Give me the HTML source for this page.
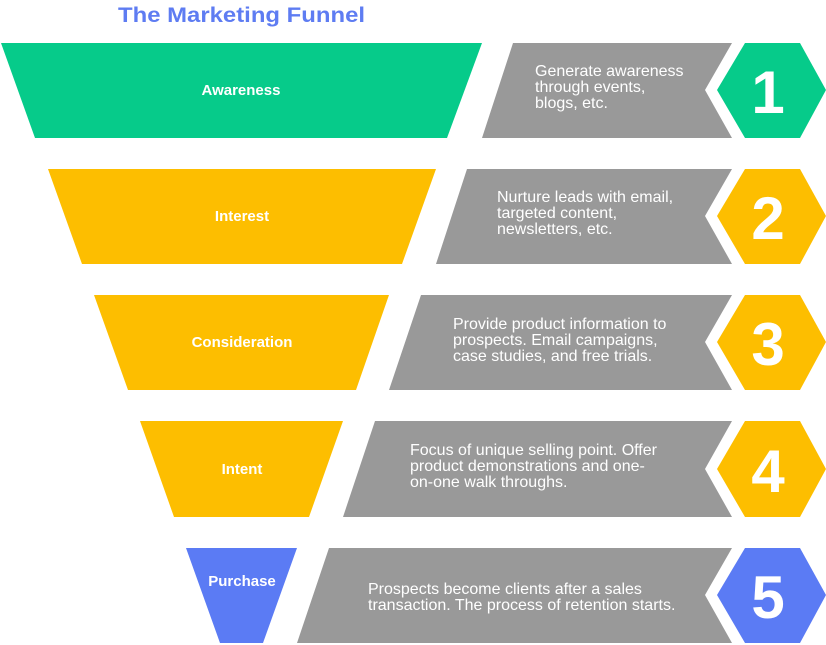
<!DOCTYPE html>
<html><head><meta charset="utf-8"><style>
html,body{margin:0;padding:0;background:#fff;}
svg{display:block;font-family:"Liberation Sans",sans-serif;}
</style></head><body>
<svg width="826" height="645" viewBox="0 0 826 645" xmlns="http://www.w3.org/2000/svg">
<text x="118" y="22" font-size="21" font-weight="bold" fill="#5E7CF2" textLength="247" lengthAdjust="spacingAndGlyphs">The Marketing Funnel</text>
<g font-weight="bold" fill="#fff" font-size="15" text-anchor="middle">
<polygon points="1,43 482,43 447,138 35,138" fill="#06CB8A"/>
<text x="241" y="95">Awareness</text>
<polygon points="48,169 436,169 402,264 82,264" fill="#FDBE00"/>
<text x="242" y="221">Interest</text>
<polygon points="94,295 389,295 356,390 128,390" fill="#FDBE00"/>
<text x="242" y="347">Consideration</text>
<polygon points="140,421 343,421 309,517 174,517" fill="#FDBE00"/>
<text x="242" y="474">Intent</text>
<polygon points="186,548 297,548 263,643 220,643" fill="#5B7BF4"/>
<text x="242" y="586">Purchase</text>
</g>
<g fill="#999">
<polygon points="513,43 732,43 705,90 732,138 482,138"/>
<polygon points="467,169 732,169 705,216 732,264 436,264"/>
<polygon points="421,295 732,295 705,342 732,390 389,390"/>
<polygon points="375,421 732,421 705,469 732,517 343,517"/>
<polygon points="329,548 732,548 705,595 732,643 297,643"/>
</g>
<polygon points="717,90 745,43 800,43 826,90 800,138 745,138" fill="#06CB8A"/>
<polygon points="717,216 745,169 800,169 826,216 800,264 745,264" fill="#FDBE00"/>
<polygon points="717,342 745,295 800,295 826,342 800,390 745,390" fill="#FDBE00"/>
<polygon points="717,469 745,421 800,421 826,469 800,517 745,517" fill="#FDBE00"/>
<polygon points="717,595 745,548 800,548 826,595 800,643 745,643" fill="#5B7BF4"/>
<g fill="#fff" font-weight="bold" font-size="60" text-anchor="middle">
<text x="768" y="113">1</text>
<text x="768" y="239">2</text>
<text x="768" y="365">3</text>
<text x="768" y="492">4</text>
<text x="768" y="618">5</text>
</g>
<g fill="#fff" font-size="16">
<text x="535" y="76">Generate awareness</text>
<text x="535" y="92">through events,</text>
<text x="535" y="108">blogs, etc.</text>
<text x="497" y="202">Nurture leads with email,</text>
<text x="497" y="218">targeted content,</text>
<text x="497" y="234">newsletters, etc.</text>
<text x="453" y="329">Provide product information to</text>
<text x="453" y="345">prospects. Email campaigns,</text>
<text x="453" y="361">case studies, and free trials.</text>
<text x="410" y="455">Focus of unique selling point. Offer</text>
<text x="410" y="471">product demonstrations and one-</text>
<text x="410" y="487">on-one walk throughs.</text>
<text x="368" y="594">Prospects become clients after a sales</text>
<text x="368" y="610">transaction. The process of retention starts.</text>
</g>
</svg>
</body></html>
